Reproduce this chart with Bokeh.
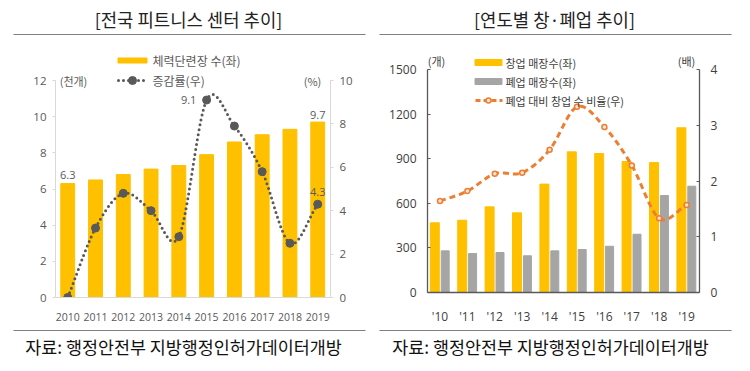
import numpy as np
from bokeh.plotting import figure
from bokeh.models import Range1d, LinearAxis, FixedTicker, Label
from bokeh.layouts import row, column
from bokeh.embed import file_html
from bokeh.resources import INLINE

# ---------------- data ----------------
years = ["2010", "2011", "2012", "2013", "2014", "2015", "2016", "2017", "2018", "2019"]
gym_counts = [6.3, 6.5, 6.8, 7.1, 7.3, 7.9, 8.6, 9.0, 9.3, 9.7]      # 천개
gym_growth = [0.0, 3.2, 4.8, 4.0, 2.8, 9.1, 7.9, 5.8, 2.5, 4.3]      # %

short_years = ["'10", "'11", "'12", "'13", "'14", "'15", "'16", "'17", "'18", "'19"]
openings = [469, 486, 576, 536, 729, 946, 935, 881, 874, 1108]
closures = [280, 262, 269, 247, 280, 289, 311, 392, 652, 715]
ratio = [1.64, 1.82, 2.13, 2.15, 2.56, 3.33, 2.97, 2.28, 1.33, 1.57]

left_ticks = [0, 2, 4, 6, 8, 10, 12]
pct_ticks = [0, 2, 4, 6, 8, 10]
count_ticks = [0, 300, 600, 900, 1200, 1500]
ratio_ticks = [0, 1, 2, 3, 4]

title1 = "[전국 피트니스 센터 추이]"
title2 = "[연도별 창·폐업 추이]"
source_text = "자료: 행정안전부  지방행정인허가데이터개방"

KR = "Noto Sans CJK KR"
NUM = "Open Sans"
GOLD = "#FFC000"
GRAY = "#A5A5A5"
ORANGE = "#ED7D31"
DARK = "#595959"
RULE = "#7F7F7F"

TOP_H, MAIN_H, BOT_H = 40, 280, 51
HALF_W = 375


def smooth(xs, ys, n=20):
    """Catmull-Rom rendering of a line through the data points (smoothed line)."""
    xs = np.asarray(xs, float)
    ys = np.asarray(ys, float)
    px = np.concatenate([[2 * xs[0] - xs[1]], xs, [2 * xs[-1] - xs[-2]]])
    py = np.concatenate([[2 * ys[0] - ys[1]], ys, [2 * ys[-1] - ys[-2]]])
    ox, oy = [], []
    t = np.linspace(0, 1, n, endpoint=False)
    for i in range(1, len(px) - 2):
        for arr, out in ((px, ox), (py, oy)):
            p0, p1, p2, p3 = arr[i - 1], arr[i], arr[i + 1], arr[i + 2]
            out.extend(0.5 * ((2 * p1) + (-p0 + p2) * t + (2 * p0 - 5 * p1 + 4 * p2 - p3) * t ** 2
                              + (-p0 + 3 * p1 - 3 * p2 + p3) * t ** 3))
    ox.append(xs[-1])
    oy.append(ys[-1])
    return ox, oy


def base_fig(fw, fh, bl, br, bt, bb, xr, yr):
    p = figure(frame_width=fw, frame_height=fh, min_border_left=bl, min_border_right=br,
               min_border_top=bt, min_border_bottom=bb, x_range=xr, y_range=yr,
               output_backend="svg", toolbar_location=None, tools="")
    p.xgrid.visible = False
    p.ygrid.visible = False
    p.outline_line_color = None
    return p


def strip(h):
    s = figure(frame_width=HALF_W, frame_height=h, min_border=0, x_range=Range1d(0, HALF_W),
               y_range=Range1d(h, 0), x_axis_type=None, y_axis_type=None,
               output_backend="svg", toolbar_location=None, tools="")
    s.outline_line_color = None
    return s


def header(title, cx, x0, x1):
    s = strip(TOP_H)
    s.add_layout(Label(x=cx, y=18, text=title, text_font=KR, text_font_size="17.8px",
                       text_color="#222222", text_align="center", text_baseline="middle"))
    s.line([x0, x1], [34, 34], line_color=RULE, line_width=1.2)
    return s


def footer(cx, x0, x1):
    s = strip(BOT_H)
    s.line([x0, x1], [6, 6], line_color=RULE, line_width=1.2)
    s.add_layout(Label(x=cx, y=22, text=source_text, text_font=KR, text_font_size="17.4px",
                       text_color="#111111", text_align="center", text_baseline="middle"))
    return s


idx = list(range(len(years)))

# ================= chart 1 =================
F1_TOP, F1_BOT = 48, 297          # page px of frame
F1_L, F1_R = 55, 330
X1_LO, X1_HI = -0.44, 9.46
y1max = 12 * (F1_BOT - F1_TOP) / (F1_BOT - 80)
pmax = 10 * (F1_BOT - F1_TOP) / (F1_BOT - 80)
p1 = base_fig(F1_R - F1_L, F1_BOT - F1_TOP, F1_L, HALF_W - F1_R, F1_TOP - TOP_H,
              TOP_H + MAIN_H - F1_BOT, Range1d(X1_LO, X1_HI), Range1d(0, y1max))
p1.extra_y_ranges = {"pct": Range1d(0, pmax)}


def px1(x):
    return X1_LO + (x - F1_L) * (X1_HI - X1_LO) / (F1_R - F1_L)


def py1(y):
    return (F1_BOT - y) * y1max / (F1_BOT - F1_TOP)


p1.yaxis[0].ticker = FixedTicker(ticks=left_ticks)
p1.yaxis[0].bounds = (0, 12)
ax_r = LinearAxis(y_range_name="pct", ticker=FixedTicker(ticks=pct_ticks), bounds=(0, 10))
p1.add_layout(ax_r, "right")
for ax in (p1.yaxis[0], ax_r):
    ax.axis_line_color = "#D9D9D9"
    ax.major_tick_line_color = "#D9D9D9"
    ax.major_tick_out = 3
    ax.major_tick_in = 0
    ax.minor_tick_line_color = None
    ax.major_label_text_font = NUM
    ax.major_label_text_font_size = "11.5px"
    ax.major_label_text_color = DARK
    ax.major_label_standoff = 6
p1.xaxis.ticker = FixedTicker(ticks=idx)
p1.xaxis.major_label_overrides = {i: y for i, y in enumerate(years)}
p1.xaxis.axis_line_color = "#D9D9D9"
p1.xaxis.major_tick_line_color = None
p1.xaxis.minor_tick_line_color = None
p1.xaxis.major_label_text_font = NUM
p1.xaxis.major_label_text_font_size = "10.5px"
p1.xaxis.major_label_text_color = DARK
p1.xaxis.major_label_standoff = 9

p1.vbar(x=idx, top=gym_counts, width=0.5, color=GOLD)
sx, sy = smooth(idx, gym_growth)
p1.line(sx, sy, y_range_name="pct", line_color=DARK, line_width=3, line_dash="0 5", line_cap="round")
p1.scatter(idx, gym_growth, y_range_name="pct", size=8, color=DARK)

# legend 1
p1.rect(x=px1(132), y=py1(60), width=29, height=5, width_units="screen", height_units="screen",
        color=GOLD)
p1.line([px1(118), px1(146)], [py1(80), py1(80)], line_color=DARK, line_width=3, line_dash="0 5",
        line_cap="round")
p1.scatter([px1(132)], [py1(80)], size=8, color=DARK)
p1.add_layout(Label(x=px1(152), y=py1(60), text="체력단련장 수(좌)", text_font=KR, text_font_size="12px",
                    text_color=DARK, text_baseline="middle"))
p1.add_layout(Label(x=px1(152), y=py1(80), text="증감률(우)", text_font=KR, text_font_size="12px",
                    text_color=DARK, text_baseline="middle"))
p1.add_layout(Label(x=px1(73), y=py1(80), text="(천개)", text_font=KR, text_font_size="11px",
                    text_color=DARK, text_baseline="middle", text_align="center"))
p1.add_layout(Label(x=px1(312), y=py1(80), text="(%)", text_font=KR, text_font_size="11px",
                    text_color=DARK, text_baseline="middle", text_align="center"))

# value labels
for i, yv, rng, dx, dy, base in [(0, gym_counts[0], "default", 0, 5, "bottom"),
                                 (9, gym_counts[9], "default", 0, 3, "bottom"),
                                 (5, gym_growth[5], "pct", -18, 0, "middle"),
                                 (9, gym_growth[9], "pct", 0, 8, "bottom")]:
    p1.add_layout(Label(x=i, y=yv, y_range_name=rng, text=f"{yv:.1f}", x_offset=dx, y_offset=dy,
                        text_font=NUM, text_font_size="11px", text_color=DARK,
                        text_align="center", text_baseline=base))

# ================= chart 2 =================
F2_TOP, F2_BOT = 45, 289
F2_L, F2_R = 427 - HALF_W, 699 - HALF_W
X2_0, X2_STEP = 439.5 - HALF_W, 27.4
x2lo = (F2_L - X2_0) / X2_STEP
x2hi = (F2_R - X2_0) / X2_STEP
y2max = 1500 * (F2_BOT - F2_TOP) / (F2_BOT - 66)
rmax = 4 * (F2_BOT - F2_TOP) / (F2_BOT - 66)
p2 = base_fig(F2_R - F2_L, F2_BOT - F2_TOP, F2_L, HALF_W - F2_R, F2_TOP - TOP_H,
              TOP_H + MAIN_H - F2_BOT, Range1d(x2lo, x2hi), Range1d(0, y2max))
p2.extra_y_ranges = {"ratio": Range1d(0, rmax)}


def px2(x):
    return (x - HALF_W - X2_0) / X2_STEP


def py2(y):
    return (F2_BOT - y) * y2max / (F2_BOT - F2_TOP)


p2.yaxis[0].ticker = FixedTicker(ticks=count_ticks)
p2.yaxis[0].bounds = (0, 1500)
ax_r2 = LinearAxis(y_range_name="ratio", ticker=FixedTicker(ticks=ratio_ticks), bounds=(0, 4))
p2.add_layout(ax_r2, "right")
for ax in (p2.yaxis[0], ax_r2):
    ax.axis_line_color = "#595959"
    ax.axis_line_width = 1.3
    ax.major_tick_line_color = "#595959"
    ax.major_tick_in = 3
    ax.major_tick_out = 0
    ax.minor_tick_line_color = None
    ax.major_label_text_font = NUM
    ax.major_label_text_font_size = "12px"
    ax.major_label_text_color = "#404040"
    ax.major_label_standoff = 11
p2.xaxis.ticker = FixedTicker(ticks=idx)
p2.xaxis.major_label_overrides = {i: y for i, y in enumerate(short_years)}
p2.xaxis.axis_line_color = "#595959"
p2.xaxis.axis_line_width = 1.3
p2.xaxis.major_tick_line_color = None
p2.xaxis.minor_tick_line_color = None
p2.xaxis.major_label_text_font = NUM
p2.xaxis.major_label_text_font_size = "12px"
p2.xaxis.major_label_text_color = "#404040"
p2.xaxis.major_label_standoff = 9

off = 5.2 / X2_STEP
p2.vbar(x=[i - off for i in idx], top=openings, width=9 / X2_STEP, color=GOLD)
p2.vbar(x=[i + off for i in idx], top=closures, width=8 / X2_STEP, color=GRAY)
rx, ry = smooth(idx, ratio)
p2.line(rx, ry, y_range_name="ratio", line_color=ORANGE, line_width=3, line_dash="6 4")
p2.scatter(idx, ratio, y_range_name="ratio", size=5, fill_color="#FBE5D6", line_color=ORANGE,
           line_width=1.5)

# legend 2
p2.rect(x=px2(488), y=py2(59), width=27, height=6, width_units="screen", height_units="screen",
        color=GOLD)
p2.rect(x=px2(488), y=py2(78), width=27, height=6, width_units="screen", height_units="screen",
        color=GRAY)
p2.line([px2(475), px2(502)], [py2(97), py2(97)], line_color=ORANGE, line_width=3, line_dash="5 3")
p2.scatter([px2(488)], [py2(97)], size=5, fill_color="#FBE5D6", line_color=ORANGE, line_width=1.5)
for yy, t in ((59, "창업 매장수(좌)"), (78, "폐업 매장수(좌)"), (97, "폐업 대비 창업 수 비율(우)")):
    p2.add_layout(Label(x=px2(505), y=py2(yy), text=t, text_font=KR, text_font_size="11px",
                        text_color="#404040", text_baseline="middle"))
p2.add_layout(Label(x=px2(436), y=py2(57), text="(개)", text_font=KR, text_font_size="11px",
                    text_color="#404040", text_baseline="middle", text_align="center"))
p2.add_layout(Label(x=px2(686), y=py2(57), text="(배)", text_font=KR, text_font_size="11px",
                    text_color="#404040", text_baseline="middle", text_align="center"))

# ================= headers / footers =================
h1 = header(title1, 188, 13, 365)
h2 = header(title2, 554 - HALF_W, 379 - HALF_W, 731 - HALF_W)
f1 = footer(185, 13, 365)
f2 = footer(552 - HALF_W, 379 - HALF_W, 731 - HALF_W)

layout = column(row(h1, h2, spacing=0), row(p1, p2, spacing=0), row(f1, f2, spacing=0), spacing=0)
open("out.html", "w").write(file_html(layout, INLINE))
